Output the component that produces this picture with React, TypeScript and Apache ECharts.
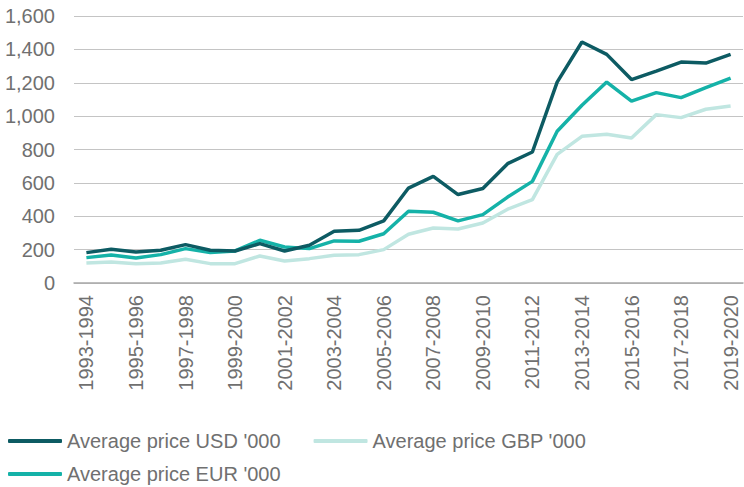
import React, { useEffect, useRef } from "react";
import * as echarts from "echarts";

const categories = [
  "1993-1994", "1994-1995", "1995-1996", "1996-1997", "1997-1998", "1998-1999",
  "1999-2000", "2000-2001", "2001-2002", "2002-2003", "2003-2004", "2004-2005",
  "2005-2006", "2006-2007", "2007-2008", "2008-2009", "2009-2010", "2010-2011",
  "2011-2012", "2012-2013", "2013-2014", "2014-2015", "2015-2016", "2016-2017",
  "2017-2018", "2018-2019", "2019-2020",
];

const usd = [182, 202, 186, 196, 230, 196, 192, 236, 192, 226, 310, 316, 372, 569, 639, 530, 566, 715, 785, 1204, 1444, 1370, 1219, 1270, 1324, 1318, 1370];
const eur = [152, 168, 150, 170, 206, 182, 192, 256, 216, 206, 252, 250, 295, 430, 424, 372, 410, 515, 609, 909, 1065, 1204, 1090, 1141, 1111, 1171, 1228];
const gbp = [120, 126, 116, 120, 142, 116, 116, 162, 132, 146, 166, 170, 200, 292, 330, 324, 360, 442, 500, 771, 879, 891, 869, 1009, 991, 1041, 1061];

const yTicks = { min: 0, max: 1600, interval: 200 };

const names = {
  usd: "Average price USD '000",
  gbp: "Average price GBP '000",
  eur: "Average price EUR '000",
};

const colors = { usd: "#0d5b63", gbp: "#c0e6e1", eur: "#15b2a8" };

export default function App() {
  const ref = useRef<HTMLDivElement>(null);
  useEffect(() => {
    if (!ref.current) return;
    const chart = echarts.init(ref.current, null, { renderer: "svg" });
    const font = "'Liberation Sans', Arial, sans-serif";
    const textColor = "#707070";
    const legendCommon = {
      left: 8,
      padding: 0,
      orient: "horizontal" as const,
      itemWidth: 54,
      itemHeight: 4,
      itemGap: 33,
      icon: "roundRect",
      textStyle: { fontFamily: font, fontSize: 20, color: textColor },
    };
    chart.setOption({
      animation: false,
      backgroundColor: "#ffffff",
      grid: { left: 74, right: 1, top: 16, bottom: 204, containLabel: false },
      legend: [
        { ...legendCommon, top: 431, data: [names.usd, names.gbp] },
        { ...legendCommon, top: 464, data: [names.eur] },
      ],
      xAxis: {
        type: "category",
        data: categories,
        boundaryGap: true,
        axisLine: { show: true, lineStyle: { color: "#a8a8a8", width: 1.5 } },
        axisTick: { show: false },
        axisLabel: {
          interval: 1,
          rotate: 90,
          margin: 12,
          fontFamily: font,
          fontSize: 20,
          color: textColor,
        },
      },
      yAxis: {
        type: "value",
        min: yTicks.min,
        max: yTicks.max,
        interval: yTicks.interval,
        axisLine: { show: false },
        axisTick: { show: false },
        splitLine: { lineStyle: { color: "#c4c4c4", width: 1.2 } },
        axisLabel: {
          margin: 19,
          fontFamily: font,
          fontSize: 20,
          color: textColor,
          formatter: (v: number) => v.toLocaleString("en-US"),
        },
      },
      series: [
        {
          name: names.usd,
          type: "line",
          data: usd,
          symbol: "none",
          lineStyle: { color: colors.usd, width: 3.5 },
          itemStyle: { color: colors.usd },
          z: 3,
        },
        {
          name: names.gbp,
          type: "line",
          data: gbp,
          symbol: "none",
          lineStyle: { color: colors.gbp, width: 3.5 },
          itemStyle: { color: colors.gbp },
          z: 1,
        },
        {
          name: names.eur,
          type: "line",
          data: eur,
          symbol: "none",
          lineStyle: { color: colors.eur, width: 3.5 },
          itemStyle: { color: colors.eur },
          z: 2,
        },
      ],
    });
    return () => chart.dispose();
  }, []);
  return <div ref={ref} style={{ width: 744, height: 487, position: "absolute", left: 0, top: 0 }} />;
}
